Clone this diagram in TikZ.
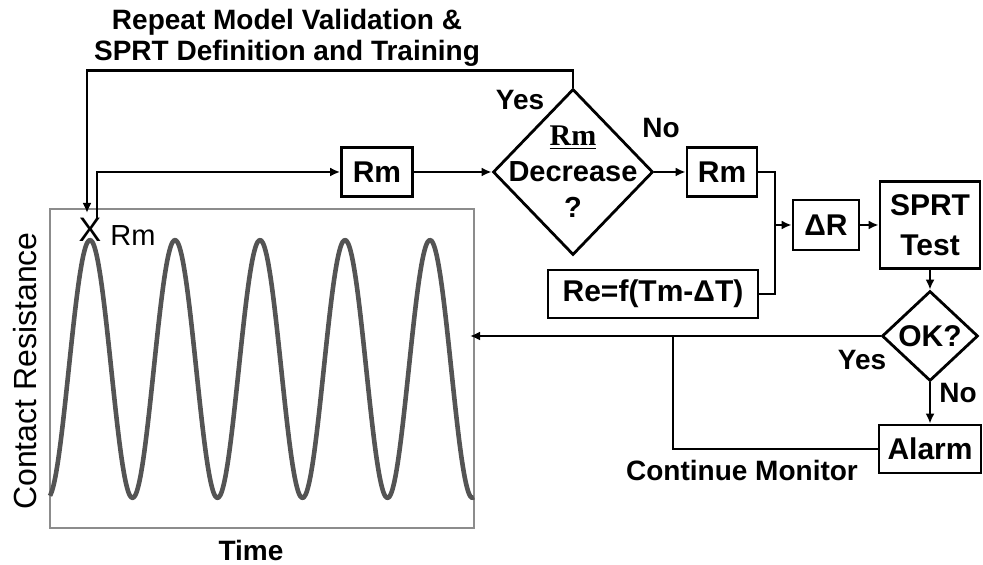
\documentclass[tikz,border=0pt]{standalone}
\usepackage{fontspec}
\setmainfont{Liberation Sans}
\newfontfamily\serifbf{Liberation Serif}
\usetikzlibrary{shapes.geometric,arrows.meta}
\definecolor{curvegray}{gray}{0.33}
\definecolor{framegray}{gray}{0.55}
\tikzset{
  box/.style={draw, line width=1.4pt, inner sep=0pt, font=\bfseries\fontsize{15}{17}\selectfont},
  decision/.style={diamond, draw, line width=1.4pt, inner sep=0pt},
  lbl/.style={inner sep=0pt, font=\bfseries\fontsize{14}{16}\selectfont},
  link/.style={line width=1.4pt},
  arr/.style={link, -{Latex[length=5pt,width=4.5pt]}},
}
\begin{document}
\begin{tikzpicture}[x=0.5pt, y=-0.5pt]
\useasboundingbox (0,0) rectangle (983,565);
% grafico
\draw[framegray, line width=0.7pt] (50,209) rectangle (474,528);
\draw[curvegray, line width=2.3pt, line join=round]
  plot[domain=50:474, samples=240, smooth] (\x, {369-129*cos(4.2353*(\x-90))});
\node[rotate=90, font=\fontsize{16}{18}\selectfont] (ylab) at (25,371) {Contact Resistance};
\node[lbl] (xlab) at (251,550) {Time};
\node[inner sep=0pt, font=\fontsize{17}{18}\selectfont] (xmark) at (90,230) {X};
\node[anchor=west, inner sep=0pt, font=\fontsize{14.5}{16}\selectfont] (rmlab) at (110,236) {Rm};
% schema
\node[box, minimum width=35.5pt, minimum height=24.5pt] (rmA) at (377,172) {Rm};
\node[decision, minimum width=80pt, minimum height=83pt] (dec) at (573,172) {};
\node[lbl, align=center, font=\bfseries\fontsize{14.5}{18}\selectfont] (dectxt) at (573,172)
  {{\serifbf\fontsize{15}{18}\selectfont\underline{Rm}}\\Decrease\\?};
\node[box, minimum width=35pt, minimum height=24.5pt] (rmB) at (722,172) {Rm};
\node[box, minimum width=105pt, minimum height=24pt] (re) at (653,294) {Re=f(Tm-ΔT)};
\node[box, minimum width=33pt, minimum height=25pt] (dR) at (826,225) {ΔR};
\node[box, minimum width=50pt, minimum height=43.5pt, align=center,
  font=\bfseries\fontsize{15}{20}\selectfont] (sprt) at (930,225) {SPRT\\Test};
\node[decision, minimum width=48pt, minimum height=45pt] (ok) at (930,336) {};
\node[lbl, font=\bfseries\fontsize{15}{18}\selectfont] (oktxt) at (ok) {OK?};
\node[box, minimum width=51pt, minimum height=24pt] (alarm) at (930,449) {Alarm};
% etichette
\node[lbl, align=center, font=\bfseries\fontsize{14}{15.5}\selectfont] (title) at (287,38)
  {Repeat Model Validation \&\\SPRT Definition and Training};
\node[lbl] (yesA) at (520,100) {Yes};
\node[lbl] (noA) at (661,128) {No};
\node[lbl] (yesB) at (862,360) {Yes};
\node[lbl] (noB) at (958,393) {No};
\node[lbl] (cont) at (742,470) {Continue Monitor};
% collegamenti
\coordinate (fbin) at (87,213);
\coordinate (xout) at (97,218);
\coordinate (jn) at (775,225);
\coordinate (plotin) at (470,336);
\coordinate (br) at (673,336);
\draw[arr] (dec.north) -- ++(0,-17) -| (fbin);
\draw[arr] (xout) |- (rmA.west);
\draw[arr] (rmA.east) -- (dec.west);
\draw[arr] (dec.east) -- (rmB.west);
\draw[link] (rmB.east) -| (jn) |- (re.east);
\draw[arr] (jn) -- (dR.west);
\draw[arr] (dR.east) -- (sprt.west);
\draw[arr] (sprt.south) -- (ok.north);
\draw[arr] (ok.south) -- (alarm.north);
\draw[arr] (ok.west) -- (plotin);
\draw[link] (br) |- (alarm.west);
\end{tikzpicture}
\end{document}
